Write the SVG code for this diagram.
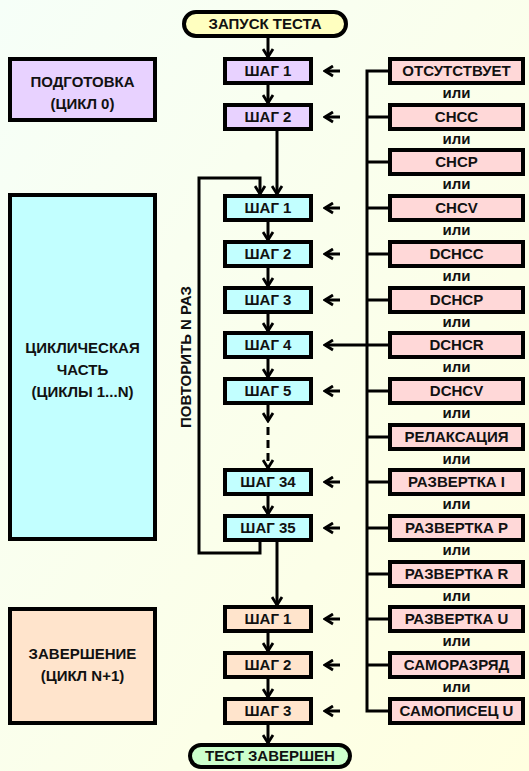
<svg xmlns="http://www.w3.org/2000/svg" width="529" height="771" viewBox="0 0 529 771">
<defs>
<linearGradient id="bg" x1="0" y1="0" x2="1" y2="1">
<stop offset="0" stop-color="#F6FFF8"/>
<stop offset="1" stop-color="#FFFFE0"/>
</linearGradient>
<marker id="ah" markerUnits="userSpaceOnUse" markerWidth="13" markerHeight="13" viewBox="0 0 13 13" refX="11" refY="6.5" orient="auto">
<path d="M3,1.5 L11,6.5 L3,11.5" fill="none" stroke="#000" stroke-width="2.8" stroke-linejoin="miter"/>
</marker>
<style>
.box{stroke:#000;stroke-width:4}
.pu{fill:#E8D2FF}
.cy{fill:#C2FFFF}
.pe{fill:#FFE4CC}
.pk{fill:#FFD8D8}
.t{font-family:"Liberation Sans",Arial,sans-serif;font-weight:bold;font-size:15px;fill:#111;text-anchor:middle}
.or{font-family:"Liberation Sans",Arial,sans-serif;font-weight:bold;font-size:15px;fill:#111;text-anchor:middle}
.ln{fill:none;stroke:#000;stroke-width:3}
.ar{fill:none;stroke:#000;stroke-width:3;marker-end:url(#ah)}
</style>
</defs>
<rect width="529" height="771" fill="url(#bg)"/>

<g id="start"><rect class="box" x="184" y="12" width="162" height="24" rx="12" fill="#FFFFC0"/><text class="t" x="265" y="29">ЗАПУСК ТЕСТА</text></g>
<g id="end"><rect class="box" x="190" y="745" width="160" height="22" rx="11" fill="#CCFFCC"/><text class="t" x="270" y="761">ТЕСТ ЗАВЕРШЕН</text></g>

<g id="phase0"><rect class="box pu" x="10" y="59" width="145" height="61"/><text class="t" x="82.5" y="87">ПОДГОТОВКА</text><text class="t" x="82.5" y="109">(ЦИКЛ 0)</text></g>
<g id="phase1"><rect class="box cy" x="10" y="195" width="145" height="344"/><text class="t" x="82.5" y="353">ЦИКЛИЧЕСКАЯ</text><text class="t" x="82.5" y="375">ЧАСТЬ</text><text class="t" x="82.5" y="397">(ЦИКЛЫ 1...N)</text></g>
<g id="phase2"><rect class="box pe" x="10" y="609" width="145" height="114"/><text class="t" x="82.5" y="659">ЗАВЕРШЕНИЕ</text><text class="t" x="82.5" y="681">(ЦИКЛ N+1)</text></g>

<g id="p1"><rect class="box pu" x="225" y="59" width="86" height="24"/><text class="t" x="268" y="76">ШАГ 1</text></g>
<g id="p2"><rect class="box pu" x="225" y="105" width="86" height="24"/><text class="t" x="268" y="122">ШАГ 2</text></g>
<g id="c1"><rect class="box cy" x="225" y="196" width="86" height="24"/><text class="t" x="268" y="213">ШАГ 1</text></g>
<g id="c2"><rect class="box cy" x="225" y="242" width="86" height="24"/><text class="t" x="268" y="259">ШАГ 2</text></g>
<g id="c3"><rect class="box cy" x="225" y="288" width="86" height="24"/><text class="t" x="268" y="305">ШАГ 3</text></g>
<g id="c4"><rect class="box cy" x="225" y="333" width="86" height="24"/><text class="t" x="268" y="350">ШАГ 4</text></g>
<g id="c5"><rect class="box cy" x="225" y="379" width="86" height="24"/><text class="t" x="268" y="396">ШАГ 5</text></g>
<g id="c34"><rect class="box cy" x="225" y="470" width="86" height="24"/><text class="t" x="268" y="487">ШАГ 34</text></g>
<g id="c35"><rect class="box cy" x="225" y="516" width="86" height="24"/><text class="t" x="268" y="533">ШАГ 35</text></g>
<g id="e1"><rect class="box pe" x="225" y="607" width="86" height="24"/><text class="t" x="268" y="624">ШАГ 1</text></g>
<g id="e2"><rect class="box pe" x="225" y="653" width="86" height="24"/><text class="t" x="268" y="670">ШАГ 2</text></g>
<g id="e3"><rect class="box pe" x="225" y="699" width="86" height="24"/><text class="t" x="268" y="716">ШАГ 3</text></g>

<g id="m0"><rect class="box pk" x="390" y="59" width="133" height="24"/><text class="t" x="456.5" y="76">ОТСУТСТВУЕТ</text></g>
<g id="m1"><rect class="box pk" x="390" y="105" width="133" height="24"/><text class="t" x="456.5" y="122">CHCC</text></g>
<g id="m2"><rect class="box pk" x="390" y="150" width="133" height="24"/><text class="t" x="456.5" y="167">CHCP</text></g>
<g id="m3"><rect class="box pk" x="390" y="196" width="133" height="24"/><text class="t" x="456.5" y="213">CHCV</text></g>
<g id="m4"><rect class="box pk" x="390" y="242" width="133" height="24"/><text class="t" x="456.5" y="259">DCHCC</text></g>
<g id="m5"><rect class="box pk" x="390" y="288" width="133" height="24"/><text class="t" x="456.5" y="305">DCHCP</text></g>
<g id="m6"><rect class="box pk" x="390" y="333" width="133" height="24"/><text class="t" x="456.5" y="350">DCHCR</text></g>
<g id="m7"><rect class="box pk" x="390" y="379" width="133" height="24"/><text class="t" x="456.5" y="396">DCHCV</text></g>
<g id="m8"><rect class="box pk" x="390" y="425" width="133" height="24"/><text class="t" x="456.5" y="442">РЕЛАКСАЦИЯ</text></g>
<g id="m9"><rect class="box pk" x="390" y="470" width="133" height="24"/><text class="t" x="456.5" y="487">РАЗВЕРТКА I</text></g>
<g id="m10"><rect class="box pk" x="390" y="516" width="133" height="24"/><text class="t" x="456.5" y="533">РАЗВЕРТКА P</text></g>
<g id="m11"><rect class="box pk" x="390" y="562" width="133" height="24"/><text class="t" x="456.5" y="579">РАЗВЕРТКА R</text></g>
<g id="m12"><rect class="box pk" x="390" y="607" width="133" height="24"/><text class="t" x="456.5" y="624">РАЗВЕРТКА U</text></g>
<g id="m13"><rect class="box pk" x="390" y="653" width="133" height="24"/><text class="t" x="456.5" y="670">САМОРАЗРЯД</text></g>
<g id="m14"><rect class="box pk" x="390" y="699" width="133" height="24"/><text class="t" x="456.5" y="716">САМОПИСЕЦ U</text></g>

<g id="or-labels">
<text class="or" x="456.5" y="98">или</text>
<text class="or" x="456.5" y="144">или</text>
<text class="or" x="456.5" y="189">или</text>
<text class="or" x="456.5" y="235">или</text>
<text class="or" x="456.5" y="281">или</text>
<text class="or" x="456.5" y="327">или</text>
<text class="or" x="456.5" y="372">или</text>
<text class="or" x="456.5" y="418">или</text>
<text class="or" x="456.5" y="464">или</text>
<text class="or" x="456.5" y="509">или</text>
<text class="or" x="456.5" y="555">или</text>
<text class="or" x="456.5" y="601">или</text>
<text class="or" x="456.5" y="646">или</text>
<text class="or" x="456.5" y="692">или</text>
</g>

<text class="t" transform="translate(191,357) rotate(-90)">ПОВТОРИТЬ N РАЗ</text>

<g id="connectors">
<path class="ar" d="M268,38 V57"/>
<path class="ar" d="M268,85 V103"/>
<path class="ar" d="M277,131 V194"/>
<path class="ar" d="M260,542 V553 H199 V178 H260 V194"/>
<path class="ar" d="M268,222 V240"/>
<path class="ar" d="M268,268 V286"/>
<path class="ar" d="M268,314 V331"/>
<path class="ar" d="M268,359 V377"/>
<path class="ar" d="M268,405 V421"/>
<path class="ar" d="M268,427 V468" stroke-dasharray="8,5"/>
<path class="ar" d="M268,496 V514"/>
<path class="ar" d="M277,542 V605"/>
<path class="ar" d="M268,633 V651"/>
<path class="ar" d="M268,679 V697"/>
<path class="ar" d="M268,725 V743"/>

<path class="ln" d="M388,71 H367 V711 H388"/>
<path class="ln" d="M367,117 H388 M367,162 H388 M367,208 H388 M367,254 H388 M367,300 H388 M367,345 H388 M367,391 H388 M367,437 H388 M367,482 H388 M367,528 H388 M367,574 H388 M367,619 H388 M367,665 H388"/>
<path class="ar" d="M367,345 H325"/>

<path class="ar" d="M340,71 H325"/>
<path class="ar" d="M340,117 H325"/>
<path class="ar" d="M340,208 H325"/>
<path class="ar" d="M340,254 H325"/>
<path class="ar" d="M340,300 H325"/>
<path class="ar" d="M340,391 H325"/>
<path class="ar" d="M340,482 H325"/>
<path class="ar" d="M340,528 H325"/>
<path class="ar" d="M340,619 H325"/>
<path class="ar" d="M340,665 H325"/>
<path class="ar" d="M340,711 H325"/>
</g>
</svg>
